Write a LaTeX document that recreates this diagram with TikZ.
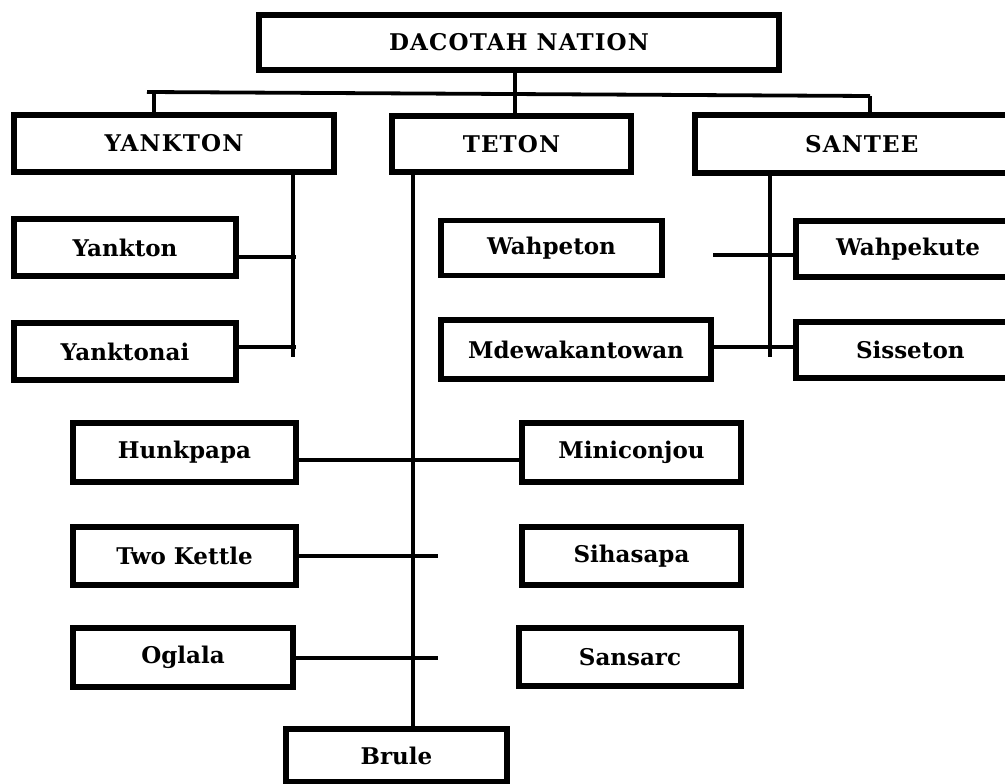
\documentclass[tikz,border=0pt]{standalone}
\usepackage{fontspec}
\setmainfont{DejaVu Serif}
\newfontfamily\capsfont[LetterSpace=5]{DejaVu Serif}
\begin{document}
\begin{tikzpicture}[x=1pt,y=-1pt,
  bx/.style={draw=black, line width=5.5pt, fill=white, inner sep=0pt,
    font=\fontsize{23}{27}\selectfont\bfseries, text=black},
  capstext/.style={font=\capsfont\fontsize{23}{27}\selectfont\bfseries},
  cn/.style={draw=black, line width=3.8pt},
  vl/.style={draw=black, line width=3.2pt}]
\useasboundingbox[fill=white] (0,0) rectangle (1005,784);
% boxes
\node[bx, capstext, minimum width=520pt, minimum height=55pt] (nation) at (519,42.5) {DACOTAH NATION};
\node[bx, capstext, minimum width=320pt, minimum height=57pt] (yanktonT) at (174,143.5) {YANKTON};
\node[bx, capstext, minimum width=239pt, minimum height=56pt] (teton) at (511.5,144) {TETON};
\node[bx, capstext, minimum width=325pt, minimum height=58pt, text width=325pt, align=left] (santee) at (857.5,144) {\hspace*{110pt}SANTEE};
\node[bx, minimum width=222pt, minimum height=57pt] (yankton) at (125,247.5) {Yankton};
\node[bx, minimum width=222pt, minimum height=57pt] (yanktonai) at (125,351.5) {Yanktonai};
\node[bx, minimum width=221pt, minimum height=55pt] (wahpeton) at (551.5,248) {Wahpeton};
\node[bx, minimum width=224pt, minimum height=56pt, text width=224pt, align=left] (wahpekute) at (908,249) {\hspace*{40pt}Wahpekute};
\node[bx, minimum width=270pt, minimum height=59pt] (mdew) at (576,349.5) {Mdewakantowan};
\node[bx, minimum width=224pt, minimum height=56pt, text width=224pt, align=left] (sisseton) at (908,350) {\hspace*{60pt}Sisseton};
\node[bx, minimum width=223pt, minimum height=59pt] (hunkpapa) at (184.5,452.5) {Hunkpapa};
\node[bx, minimum width=219pt, minimum height=59pt] (miniconjou) at (631.5,452.5) {Miniconjou};
\node[bx, minimum width=223pt, minimum height=58pt] (twokettle) at (184.5,556) {Two Kettle};
\node[bx, minimum width=219pt, minimum height=58pt] (sihasapa) at (631.5,556) {Sihasapa};
\node[bx, minimum width=220pt, minimum height=59pt] (oglala) at (183,657.5) {Oglala};
\node[bx, minimum width=222pt, minimum height=58pt] (sansarc) at (630,657) {Sansarc};
\node[bx, minimum width=221pt, minimum height=53pt] (brule) at (396.5,755.5) {Brule};
% top connectors
\coordinate (hl) at (147,92);
\coordinate (hr) at (870,96);
\coordinate (hm) at (515,94.5);
\draw[cn] (hl) -- (hr);
\draw[vl] (hm) -- (hm |- teton.north);
\draw[vl] (nation.south -| hm) -- (hm);
\draw[vl] (154,92.2) -- (154,0 |- yanktonT.north);
\draw[vl] (hr) -- (hr |- santee.north);
% Yankton group
\coordinate (yv) at (293,357);
\draw[vl] (yv |- yanktonT.south) -- (yv);
\draw[cn] (yankton.east |- 0,257) -- (296,257);
\draw[cn] (yanktonai.east |- 0,347) -- (296,347);
% Teton group
\coordinate (tv) at (413,0);
\draw[vl] (tv |- teton.south) -- (tv |- brule.north);
\draw[cn] (hunkpapa.east |- 0,460) -- (miniconjou.west |- 0,460);
\coordinate (tk) at (438,556);
\draw[cn] (twokettle.east |- tk) -- (tk);
\coordinate (og) at (438,658);
\draw[cn] (oglala.east |- og) -- (og);
% Santee group
\coordinate (sv) at (770,357);
\draw[vl] (sv |- santee.south) -- (sv);
\coordinate (wk) at (713,255);
\draw[cn] (wk) -- (wahpekute.west |- wk);
\draw[cn] (mdew.east |- 0,347) -- (sisseton.west |- 0,347);
\end{tikzpicture}
\end{document}
